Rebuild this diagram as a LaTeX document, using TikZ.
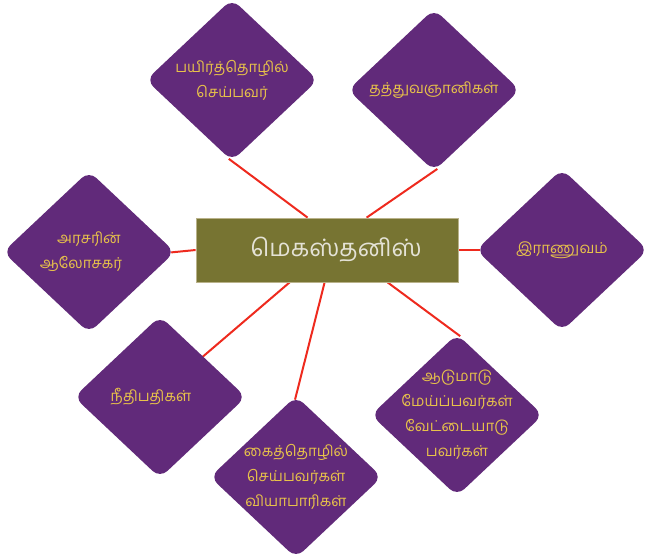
\documentclass[tikz,border=0pt]{standalone}
\usepackage{fontspec}
\newfontfamily\tamil[Script=Tamil]{Hind Madurai}
\usetikzlibrary{shapes.geometric,calc,backgrounds}
\definecolor{dpurple}{HTML}{612A7A}
\definecolor{dgold}{HTML}{E8C24A}
\definecolor{dolive}{HTML}{777432}
\definecolor{dolivee}{HTML}{B9B28A}
\definecolor{dhubtext}{HTML}{E4E2D6}
\definecolor{dred}{HTML}{EE2A1E}
\begin{document}
\begin{tikzpicture}[x=1pt,y=-1pt,
  dia/.style={diamond, fill=dpurple, rounded corners=10pt, minimum width=172pt, minimum height=162pt, inner sep=-40pt, text=dgold, font=\tamil\fontsize{15}{25}\selectfont, align=center},
  hub/.style={rectangle, fill=dolive, draw=dolivee, line width=0.8pt, minimum width=262pt, minimum height=64pt, inner sep=0pt, text=dhubtext, font=\tamil\fontsize{24}{28}\selectfont},
  link/.style={draw=dred, line width=2pt, shorten >=-4pt}]
\useasboundingbox (0,0) rectangle (660,557);
\node[hub] (c) at (327,250) {\hspace*{18pt}மெகஸ்தனிஸ்};
\node[dia] (d1) at (232,80) {பயிர்த்தொழில்\\செய்பவர்};
\node[dia] (d2) at (434,90) {தத்துவஞானிகள்};
\node[dia] (d3) at (89,252) {அரசரின்\\ஆலோசகர்\hspace*{16pt}};
\node[dia] (d4) at (562,250) {இராணுவம்};
\node[dia] (d5) at (160,397) {நீதிபதிகள்\hspace*{18pt}};
\node[dia] (d6) at (296,477) {கைத்தொழில்\\செய்பவர்கள்\\வியாபாரிகள்};
\node[dia] (d7) at (457,415) {ஆடுமாடு\\மேய்ப்பவர்கள்\\வேட்டையாடு\\பவர்கள்};
\coordinate (t1) at ($(c.north west)+(112,0)$);
\coordinate (t2) at ($(c.north west)+(171,0)$);
\coordinate (b5) at ($(c.south west)+(94,0)$);
\coordinate (b6) at ($(c.south west)+(129,0)$);
\coordinate (b7) at ($(c.south west)+(192,0)$);
\begin{scope}[on background layer]
\draw[link] (t1) -- (d1.south);
\draw[link] (t2) -- (d2.south);
\draw[link] (c.west) -- (d3.east);
\draw[link] (c.east) -- (d4.west);
\draw[link] (b5) -- (d5.north east);
\draw[link] (b6) -- (d6.north);
\draw[link] (b7) -- (d7.north);
\end{scope}
\end{tikzpicture}
\end{document}
